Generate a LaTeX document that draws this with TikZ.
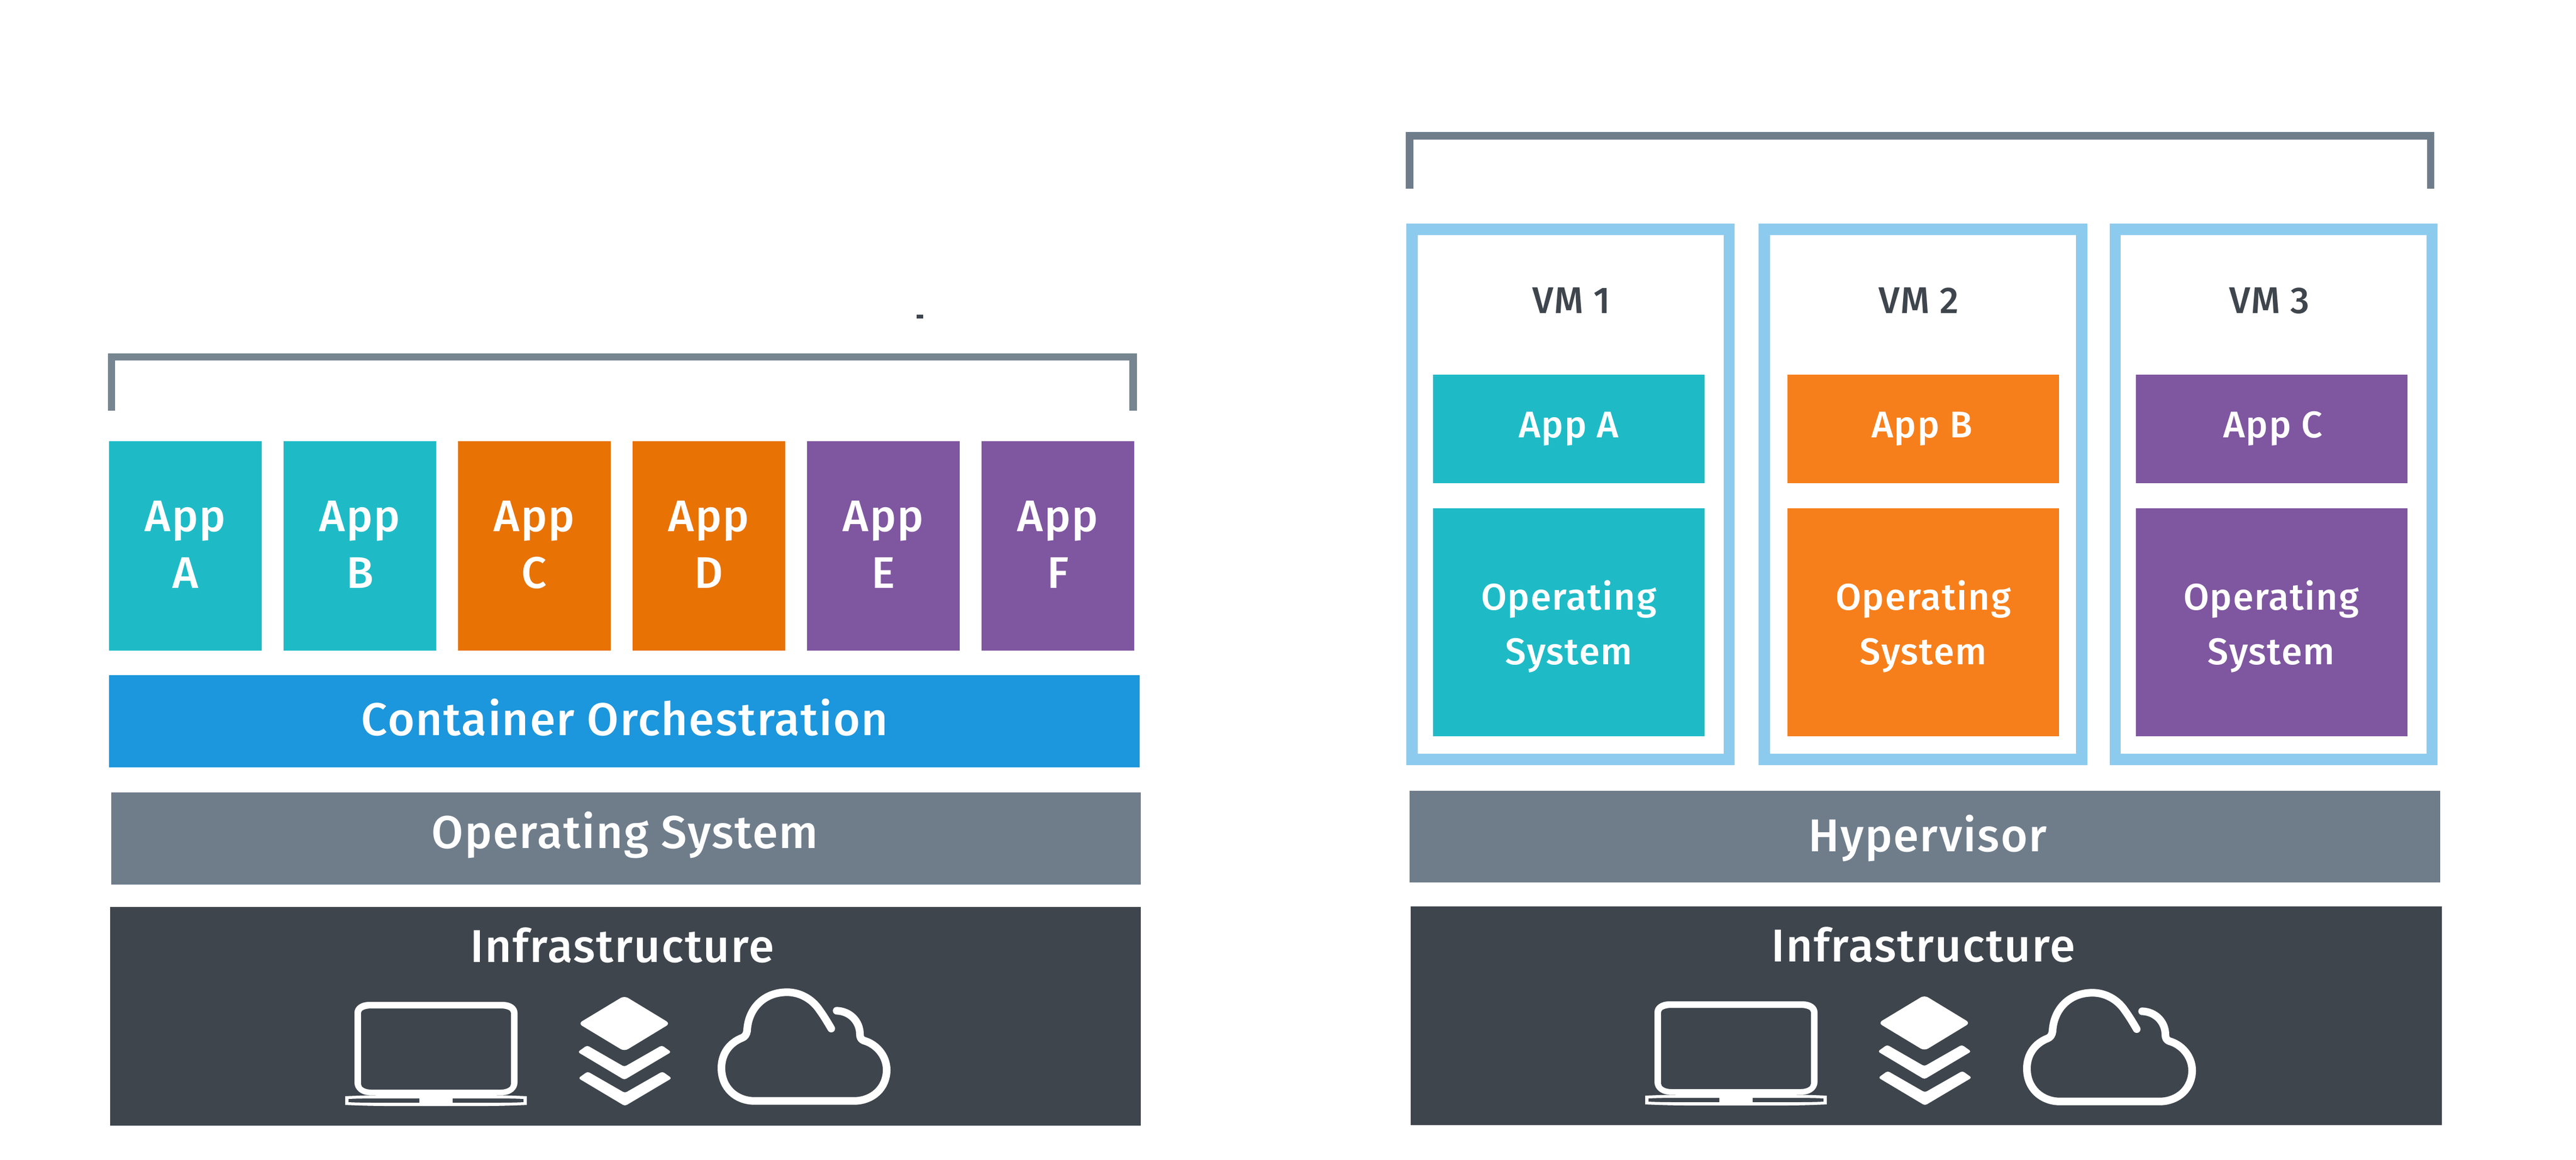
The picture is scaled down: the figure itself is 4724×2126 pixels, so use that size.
\documentclass[tikz,border=0pt]{standalone}
\usepackage{fontspec}
\setmainfont{Fira Sans Medium}[LetterSpace=2.5]
\definecolor{teal}{HTML}{1EBBC7}
\definecolor{orangeL}{HTML}{E87204}
\definecolor{orangeR}{HTML}{F77F1B}
\definecolor{purpleX}{HTML}{7F56A0}
\definecolor{blueX}{HTML}{1C96DC}
\definecolor{grayX}{HTML}{6F7D8B}
\definecolor{brackL}{HTML}{76858F}
\definecolor{darkX}{HTML}{3E454D}
\definecolor{vmblue}{HTML}{8DCBEE}
\newcommand\blk[6]{\node[blk,fill=#6,minimum width={(#4-#2)*0.01cm},minimum height={(#5-#3)*0.01cm}] (#1) at ({(#2+#4)/2},{(#3+#5)/2}) {};}
\newcommand\szApp{\fontsize{23.1pt}{29.6pt}\selectfont}
\newcommand\szVM{\fontsize{19.4pt}{28.3pt}\selectfont}
\newcommand\szBar{\fontsize{24pt}{29pt}\selectfont}
% #1 shift of laptop and layers, #2 shift of the cloud, #3 shift down of the cloud, #4 shift down of laptop and layers
\newcommand\infraicons[4]{%
\begin{scope}[xshift=#1*0.01cm,yshift=-#4*0.01cm]
 \fill[white,even odd rule]
  (677,1837) -- (922,1837) .. controls (937,1837) and (949,1845) .. (949,1857)
  -- (949,1985) .. controls (949,1998) and (937,2008) .. (922,2008)
  -- (677,2008) .. controls (662,2008) and (650,1998) .. (650,1985)
  -- (650,1857) .. controls (650,1845) and (662,1837) .. (677,1837) -- cycle
  (681,1849) -- (918,1849) .. controls (928,1849) and (937,1852) .. (937,1857)
  -- (937,1988) .. controls (937,1994) and (928,1998) .. (918,1998)
  -- (681,1998) .. controls (671,1998) and (662,1994) .. (662,1988)
  -- (662,1857) .. controls (662,1852) and (671,1849) .. (681,1849) -- cycle;
 \fill[white,even odd rule]
  (633,2010) .. controls (680,2008) and (700,2008) .. (720,2008) -- (880,2008) .. controls (900,2008) and (920,2008) .. (966,2010)
  -- (966,2026) .. controls (920,2028) and (900,2028) .. (880,2028) -- (720,2028) .. controls (700,2028) and (680,2028) .. (633,2026) -- cycle
  (639,2015) .. controls (660,2014) and (680,2014) .. (700,2014) -- (769,2014) -- (769,2022) -- (700,2022) .. controls (680,2022) and (660,2022) .. (639,2021) -- cycle
  (960,2015) .. controls (940,2014) and (920,2014) .. (900,2014) -- (830,2014) -- (830,2022) -- (900,2022) .. controls (920,2022) and (940,2022) .. (960,2021) -- cycle;
 \fill[white,rounded corners=0.08cm] (1060.5,1876.7) -- (1145,1825.7) -- (1229,1876.7) -- (1145,1927.7) -- cycle;
 \fill[white,rounded corners=0.04cm] (1076.6,1916.7) -- (1145,1956) -- (1213.8,1916.7) -- (1231,1929) -- (1145,1980) -- (1059.5,1929) -- cycle;
 \fill[white,rounded corners=0.04cm] (1077.6,1964.7) -- (1146,2004) -- (1214.8,1964.7) -- (1232,1977) -- (1146,2028) -- (1060.5,1977) -- cycle;
\end{scope}
\begin{scope}[xshift=#2*0.01cm,yshift=-#3*0.01cm]
 \draw[white,line width=0.14cm,line cap=round,line join=round]
  (1524.4,1886) .. controls (1515,1870) and (1510,1862) .. (1502.6,1851.7)
  .. controls (1488,1830) and (1465,1819.3) .. (1443.3,1819.3)
  .. controls (1400,1819.3) and (1372,1850) .. (1370,1890)
  .. controls (1369,1897) and (1366,1901) .. (1361,1903)
  .. controls (1338,1912) and (1323,1932) .. (1323,1958.3)
  .. controls (1323,1995) and (1350,2018.7) .. (1384,2018.7)
  -- (1566,2018.7)
  .. controls (1600,2018.7) and (1626,1995) .. (1626,1961.7)
  .. controls (1626,1935) and (1606,1914) .. (1584,1908)
  .. controls (1579,1906) and (1577,1902) .. (1577,1896.7)
  .. controls (1577,1872) and (1558,1854) .. (1534.3,1853.3);
\end{scope}}
\begin{document}
\begin{tikzpicture}[x=0.01cm,y=-0.01cm,
 blk/.style={rectangle,inner sep=0pt,outer sep=0pt,draw=none},
 vmframe/.style={rectangle,inner sep=0pt,outer sep=0pt,draw=vmblue,line width=0.205cm,fill=white},
 lbl/.style={inner sep=0pt,outer sep=0pt,text=white,align=center,anchor=base},
 bracket/.style={draw=#1,line width=0.135cm,line cap=butt,line join=miter}]
\useasboundingbox (0,0) rectangle (4724,2126);
\fill[white] (0,0) rectangle (4724,2126);
% ===== left stack =====
\fill[darkX] (1681,577) rectangle (1692.7,584);
\coordinate (la) at (204.7,752.6); \coordinate (lb) at (204.7,654.7);
\coordinate (lc) at (2078.2,654.7); \coordinate (ld) at (2078.2,752.6);
\draw[bracket=brackL] (la) -- (lb) -- (lc) -- (ld);
\blk{boxA}{200}{809}{480}{1193}{teal}
\blk{boxB}{520}{809}{800}{1193}{teal}
\blk{boxC}{840}{809}{1120}{1193}{orangeL}
\blk{boxD}{1160}{809}{1440}{1193}{orangeL}
\blk{boxE}{1480}{809}{1760}{1193}{purpleX}
\blk{boxF}{1800}{809}{2080}{1193}{purpleX}
\node[lbl,font=\szApp] (tA) at (340,1078.5) {App\\A};
\node[lbl,font=\szApp] (tB) at (660,1078.5) {App\\B};
\node[lbl,font=\szApp] (tC) at (980,1078.5) {App\\C};
\node[lbl,font=\szApp] (tD) at (1300,1078.5) {App\\D};
\node[lbl,font=\szApp] (tE) at (1620,1078.5) {App\\E};
\node[lbl,font=\szApp] (tF) at (1940,1078.5) {App\\F};
\blk{orch}{200}{1238}{2090}{1407}{blueX}
\node[lbl,font=\szBar] (torch) at (1146,1348) {Container Orchestration};
\blk{osL}{203.6}{1453}{2092}{1622}{grayX}
\node[lbl,font=\szBar] (tosL) at (1146,1555) {Operating System};
\blk{infraL}{202}{1663}{2092}{2064}{darkX}
\node[lbl,font=\szBar] (tinfraL) at (1141,1764) {Infrastructure};
\infraicons{0}{0}{0}{0}
% ===== right stack =====
\coordinate (ra) at (2585,346); \coordinate (rb) at (2585,249);
\coordinate (rc) at (4457.5,249); \coordinate (rd) at (4457.5,346);
\draw[bracket=grayX] (ra) -- (rb) -- (rc) -- (rd);
\blk{vmA}{2589.5}{421}{3171}{1392}{white}
\blk{vmB}{3235.5}{421}{3817.5}{1392}{white}
\blk{vmC}{3879}{421}{4460}{1392}{white}
\node[vmframe,minimum width=5.815cm,minimum height=9.71cm] (vmAf) at (vmA) {};
\node[vmframe,minimum width=5.82cm,minimum height=9.71cm] (vmBf) at (vmB) {};
\node[vmframe,minimum width=5.81cm,minimum height=9.71cm] (vmCf) at (vmC) {};
\node[lbl,font=\szVM,text=darkX] (tv1) at (2882,574) {VM 1};
\node[lbl,font=\szVM,text=darkX] (tv2) at (3519,574) {VM 2};
\node[lbl,font=\szVM,text=darkX] (tv3) at (4162,574) {VM 3};
\blk{apA}{2628}{687}{3126}{886}{teal}
\blk{apB}{3278}{687}{3776}{886}{orangeR}
\blk{apC}{3917}{687}{4415}{886}{purpleX}
\node[lbl,font=\szVM] (taA) at (2877,802) {App A};
\node[lbl,font=\szVM] (taB) at (3525,802) {App B};
\node[lbl,font=\szVM] (taC) at (4168.5,802) {App C};
\blk{osA}{2628}{932}{3126}{1350}{teal}
\blk{osB}{3278}{932}{3776}{1350}{orangeR}
\blk{osC}{3917}{932}{4415}{1350}{purpleX}
\node[lbl,font=\szVM] (toA) at (2877,1218) {Operating\\System};
\node[lbl,font=\szVM] (toB) at (3527,1218) {Operating\\System};
\node[lbl,font=\szVM] (toC) at (4165,1218) {Operating\\System};
\blk{hyp}{2585}{1449.5}{4475}{1618}{grayX}
\node[lbl,font=\szBar] (thyp) at (3535,1561) {Hypervisor};
\blk{infraR}{2587}{1662}{4477.5}{2063}{darkX}
\node[lbl,font=\szBar] (tinfraR) at (3527,1763) {Infrastructure};
\infraicons{2384}{2394}{1}{-1}
\end{tikzpicture}
\end{document}
